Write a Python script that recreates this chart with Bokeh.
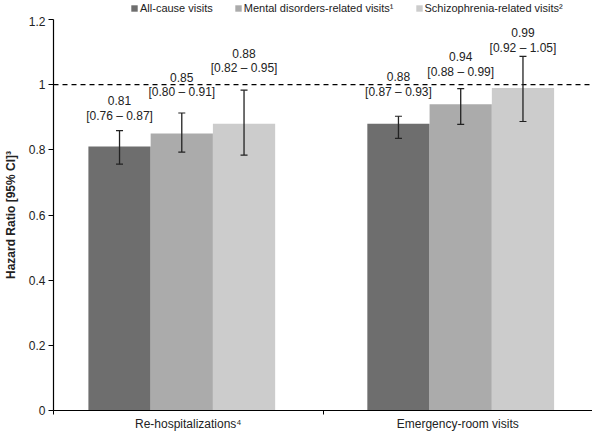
from bokeh.plotting import figure
from bokeh.layouts import column
from bokeh.models import (ColumnDataSource, FixedTicker, Whisker, Span, Legend, LegendItem,
                          TeeHead)
from bokeh.core.properties import value
from bokeh.embed import file_html
from bokeh.resources import INLINE

# ---- data ----
categories = ["Re-hospitalizations\u2074", "Emergency-room visits"]
series = ["All-cause visits", "Mental disorders-related visits\u00b9", "Schizophrenia-related visits\u00b2"]
colors = ["#6e6e6e", "#ababab", "#cccccc"]

hr_rehosp = [0.81, 0.85, 0.88]
hr_er = [0.88, 0.94, 0.99]
ci_label_rehosp = ["[0.76 \u2013 0.87]", "[0.80 \u2013 0.91]", "[0.82 \u2013 0.95]"]
ci_label_er = ["[0.87 \u2013 0.93]", "[0.88 \u2013 0.99]", "[0.92 \u2013 1.05]"]
# error bars as drawn in the picture
err_low_rehosp = [0.756, 0.793, 0.784]
err_high_rehosp = [0.859, 0.913, 0.983]
err_low_er = [0.835, 0.878, 0.887]
err_high_er = [0.903, 0.988, 1.087]
# vertical placement of the CI annotation line (data units)
label_y_rehosp = [0.904, 0.976, 1.051]
label_y_er = [0.979, 1.039, 1.114]

group_centers = [0.476, 1.511]
offsets = [-0.231, 0.0, 0.231]
bar_width = 0.231

FONT = "Liberation Sans"
TXT = "#222222"

hr_all = [hr_rehosp, hr_er]
lo_all = [err_low_rehosp, err_low_er]
hi_all = [err_high_rehosp, err_high_er]
lab_all = [ci_label_rehosp, ci_label_er]
ly_all = [label_y_rehosp, label_y_er]

bar_sources = []
for si in range(3):
    xs = [group_centers[g] + offsets[si] for g in range(2)]
    tops = [hr_all[g][si] for g in range(2)]
    bar_sources.append(ColumnDataSource(dict(x=xs, top=tops)))

# ---------- legend strip (its own small figure, bars kept out of view) ----------
leg_fig = figure(width=592, height=16, x_range=(10, 11), y_range=(10, 11),
                 x_axis_type=None, y_axis_type=None,
                 output_backend="svg", toolbar_location=None,
                 min_border_left=0, min_border_right=0, min_border_top=0, min_border_bottom=0)
leg_fig.outline_line_color = None
leg_renderers = []
for i in range(3):
    r = leg_fig.vbar(x="x", top="top", width=bar_width, source=bar_sources[i],
                     fill_color=colors[i], line_color=None)
    leg_renderers.append(r)
legend = Legend(items=[LegendItem(label=series[i], renderers=[leg_renderers[i]]) for i in range(3)],
                orientation="horizontal", location=(77, 2),
                label_text_font=FONT, label_text_font_size="11px",
                label_text_color=TXT,
                glyph_width=8, glyph_height=8, label_standoff=2, spacing=21,
                padding=0, margin=0, border_line_color=None,
                label_height=12, background_fill_alpha=0)
leg_fig.add_layout(legend)

# ---------- main chart ----------
p = figure(width=592, height=417, x_range=(0, 2), y_range=(0, 1.2),
           output_backend="svg", toolbar_location=None,
           min_border_left=0, min_border_right=0, min_border_top=3, min_border_bottom=0)
p.outline_line_color = None
p.grid.grid_line_color = None

xs_all, lo_flat, hi_flat, txt_val, txt_ci, ly_flat = [], [], [], [], [], []
for si in range(3):
    p.vbar(x="x", top="top", width=bar_width, bottom=0, source=bar_sources[si],
           fill_color=colors[si], line_color=None)
    for g in range(2):
        xs_all.append(group_centers[g] + offsets[si])
        lo_flat.append(lo_all[g][si])
        hi_flat.append(hi_all[g][si])
        txt_val.append(f"{hr_all[g][si]:.2f}")
        txt_ci.append(lab_all[g][si])
        ly_flat.append(ly_all[g][si])

esrc = ColumnDataSource(dict(x=xs_all, lower=lo_flat, upper=hi_flat,
                             val=txt_val, ci=txt_ci, ly=ly_flat))
w = Whisker(base="x", lower="lower", upper="upper", source=esrc, level="overlay",
            line_color=TXT, line_width=1.3,
            upper_head=TeeHead(size=7, line_color=TXT, line_width=1.2),
            lower_head=TeeHead(size=7, line_color=TXT, line_width=1.2))
p.add_layout(w)

p.add_layout(Span(location=1.0, dimension="width", line_color="black",
                  line_width=1.4, line_dash="5 4"))

p.text(x="x", y="ly", text="ci", source=esrc, text_align="center", text_baseline="middle",
       text_font=value(FONT), text_font_size="12px", text_color=TXT)
p.text(x="x", y="ly", text="val", source=esrc, text_align="center", text_baseline="middle",
       y_offset=-15, text_font=value(FONT), text_font_size="12px", text_color=TXT)

# axes
p.yaxis.ticker = FixedTicker(ticks=[0, 0.2, 0.4, 0.6, 0.8, 1.0, 1.2])
p.yaxis.major_label_overrides = {0: "0", 0.2: "0.2", 0.4: "0.4", 0.6: "0.6",
                                 0.8: "0.8", 1.0: "1", 1.2: "1.2"}
p.yaxis.axis_label = "Hazard Ratio [95% CI]\u00b3"
p.yaxis.axis_label_text_font = FONT
p.yaxis.axis_label_text_font_style = "bold"
p.yaxis.axis_label_text_font_size = "12px"
p.yaxis.axis_label_standoff = 8
p.yaxis.major_tick_in = 0
p.yaxis.major_tick_out = 5
p.yaxis.major_label_standoff = 3
p.yaxis.minor_tick_line_color = None

p.xaxis.ticker = FixedTicker(ticks=[0.5, 1.5], minor_ticks=[0, 1, 2])
p.xaxis.major_label_overrides = {0.5: categories[0], 1.5: categories[1]}
p.xaxis.axis_label = None
p.xaxis.major_tick_line_color = None
p.xaxis.minor_tick_in = 0
p.xaxis.minor_tick_out = 4
p.xaxis.major_label_standoff = 0
p.xaxis.major_label_text_line_height = 0.9

for ax in (p.xaxis, p.yaxis):
    ax.axis_line_color = "black"
    ax.axis_line_width = 1.2
    ax.major_label_text_font = FONT
    ax.major_label_text_font_size = "12px"
    ax.major_label_text_color = TXT
    ax.axis_label_text_color = TXT

layout = column(leg_fig, p, spacing=0)
open("out.html", "w").write(file_html(layout, INLINE))
